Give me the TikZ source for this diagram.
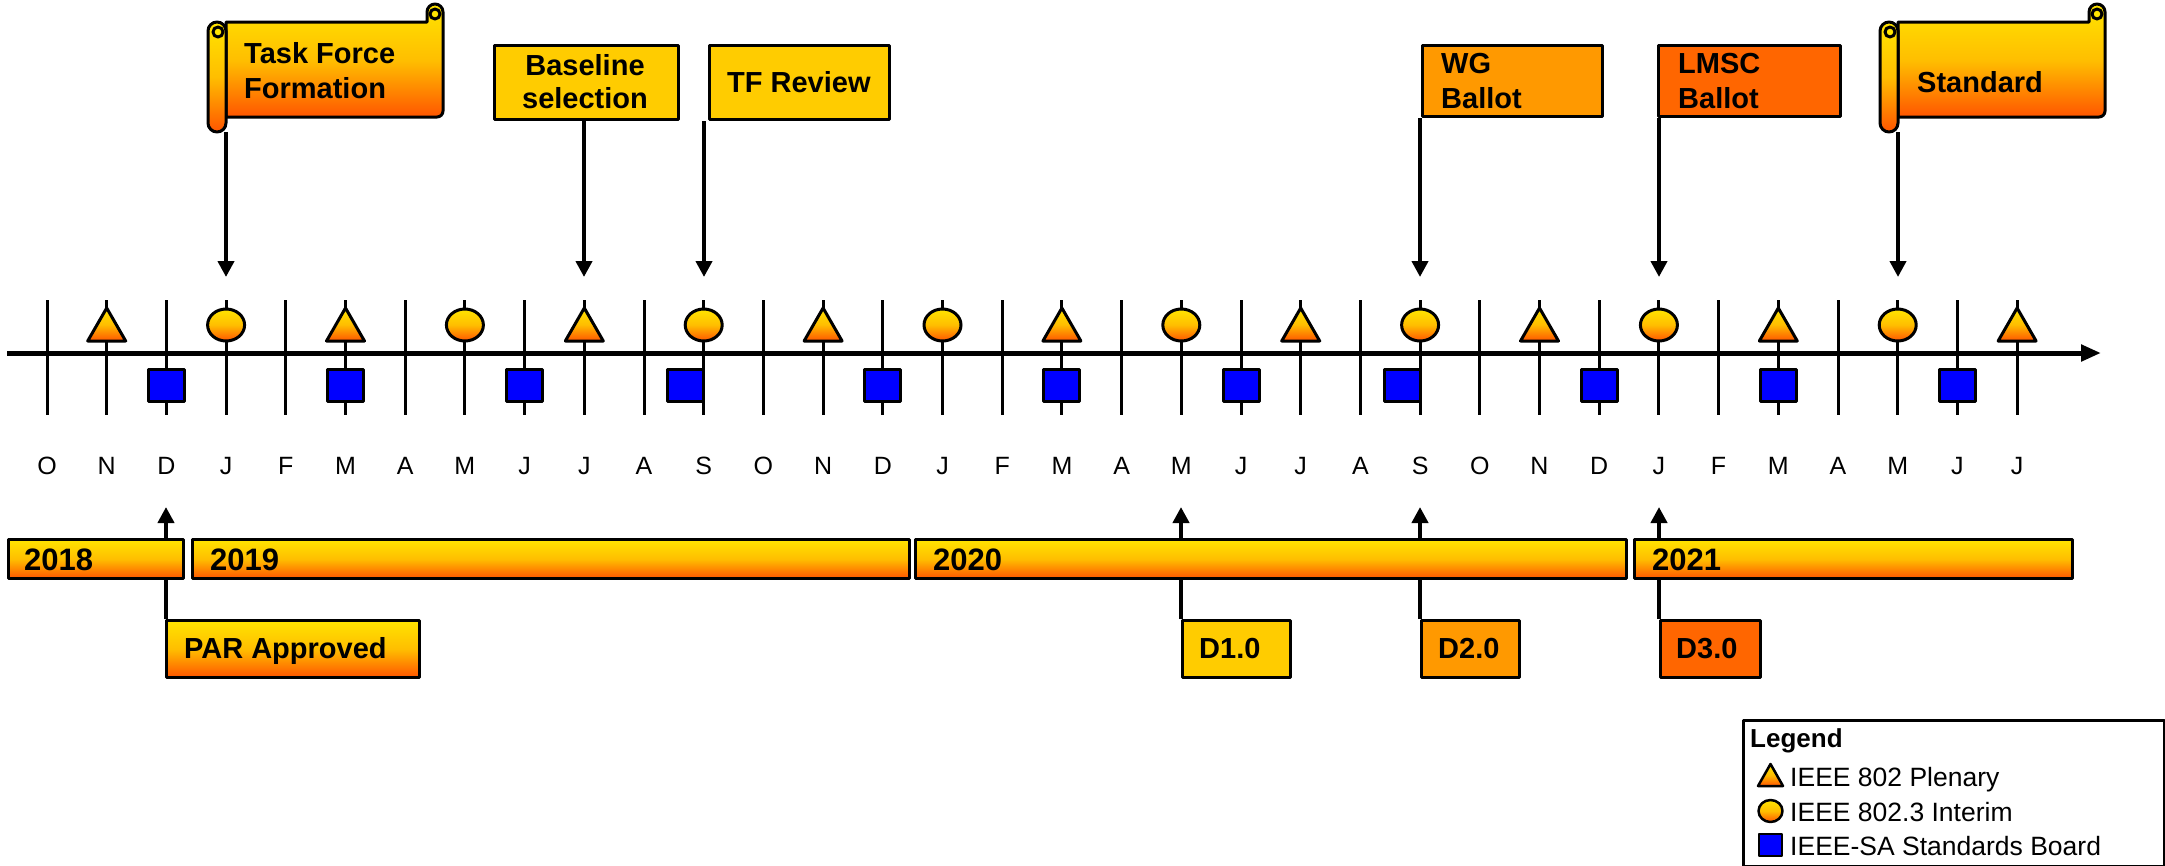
\documentclass[tikz,border=0pt]{standalone}
\usepackage{fontspec}
\setmainfont{Liberation Sans}
\usetikzlibrary{arrows.meta}
\definecolor{gy}{RGB}{255,228,0}
\definecolor{gm}{RGB}{255,190,0}
\definecolor{gr}{RGB}{255,85,0}
\definecolor{gold}{RGB}{255,204,0}
\definecolor{orangeB}{RGB}{255,153,0}
\definecolor{redB}{RGB}{255,102,0}
\definecolor{sqblue}{RGB}{0,0,255}
\newcommand{\myscroll}[2]{%
  \draw[box,grad] ({#1+18},22) -- ({#2-16},22) -- ({#2-16},12) arc[start angle=180,end angle=360,radius=8]
     -- (#2,111) arc[start angle=0,end angle=90,radius=6] -- ({#1+18},117) -- cycle;
  \draw[box,fill=gy] ({#2-8},14) circle (5);
  \draw[box,grad,rounded corners=9pt] (#1,22) rectangle ({#1+18},132);
  \draw[box,fill=gy] ({#1+10},32) circle (5);
}
\begin{document}
\begin{tikzpicture}[x=1pt,y=-1pt,line join=round,
  grad/.style={top color=gy,bottom color=gr,middle color=gm},
  tick/.style={line width=3pt},
  mk/.style={line width=3pt,draw=black},
  lbl/.style={font=\fontsize{29}{34}\selectfont\bfseries,inner sep=0pt,anchor=base west},
  yrlbl/.style={font=\fontsize{31}{36}\selectfont\bfseries,inner sep=0pt,anchor=base west},
  box/.style={draw=black,line width=3pt},
  arr/.style={line width=4.5pt,-{Triangle[length=16pt,width=16pt]}},
  month/.style={font=\fontsize{25}{30}\selectfont,inner sep=0pt,anchor=base},
  legtxt/.style={font=\fontsize{26.5}{30}\selectfont,anchor=base west,inner sep=0pt}]
\useasboundingbox (0,0) rectangle (2165,865);
% ticks
\foreach \i in {0,...,33} {\draw[tick] ({47+59.7*\i},300) -- ({47+59.7*\i},415);}
% axis
\coordinate (axL) at (7,353);
\coordinate (axR) at (2101,353);
\draw[line width=5pt,-{Triangle[length=20pt,width=16pt]}] (axL) -- (axR);
% triangles
\foreach \i in {1,5,9,13,17,21,25,29,33} {\draw[mk,grad] ({47+59.7*\i},308) -- ({47+59.7*\i+19},341) -- ({47+59.7*\i-19},341) -- cycle;}
% circles
\foreach \i in {3,7,11,15,19,23,27,31} {\draw[mk,grad] ({47+59.7*\i},325) ellipse [x radius=18.5, y radius=16];}
% squares
\foreach \i in {2,5,8,14,17,20,26,29,32} {\draw[mk,fill=sqblue] ({47+59.7*\i-18},369) rectangle ({47+59.7*\i+18},401);}
\foreach \i in {11,23} {\draw[mk,fill=sqblue] ({47+59.7*\i-36},369) rectangle ({47+59.7*\i},401);}
% month labels
\foreach \m [count=\k from 0] in {O,N,D,J,F,M,A,M,J,J,A,S,O,N,D,J,F,M,A,M,J,J,A,S,O,N,D,J,F,M,A,M,J,J}
  {\node[month] (mon\k) at ({47+59.7*\k},474) {\m};}
% marker coordinates
\coordinate (tJan19) at (226,277);
\coordinate (tJul19) at (584,277);
\coordinate (tSep19) at (704,277);
\coordinate (tSep20) at (1420,277);
\coordinate (tJan21) at (1659,277);
\coordinate (tMay21) at (1898,277);
\coordinate (bDec18) at (166,507);
\coordinate (bMay20) at (1181,507);
\coordinate (bSep20) at (1420,507);
\coordinate (bJan21) at (1659,507);
% ---- top labels
\myscroll{208}{443}
\coordinate (tffbot) at (217,132);
\node[lbl] (tff1) at (244,63) {Task Force};
\node[lbl] (tff2) at (244,98) {Formation};
\node[box,fill=gold,minimum width=184pt,minimum height=74pt,inner sep=0pt,anchor=north west] (bsel) at (493,44) {};
\node[lbl,anchor=base] (bsel1) at (585,75) {Baseline};
\node[lbl,anchor=base] (bsel2) at (585,108) {selection};
\node[box,fill=gold,minimum width=180pt,minimum height=74pt,anchor=north west,inner sep=0pt] (tfr) at (708,44) {};
\node[lbl] (tfr1) at (727,92) {TF Review};
\node[box,fill=orangeB,minimum width=180pt,minimum height=71pt,anchor=north west,inner sep=0pt] (wgb) at (1421,44) {};
\node[lbl] (wgb1) at (1441,73) {WG};
\node[lbl] (wgb2) at (1441,108) {Ballot};
\node[box,fill=redB,minimum width=182pt,minimum height=71pt,anchor=north west,inner sep=0pt] (lmsc) at (1657,44) {};
\node[lbl] (lmsc1) at (1678,73) {LMSC};
\node[lbl] (lmsc2) at (1678,108) {Ballot};
\myscroll{1880}{2105}
\node[lbl] (std) at (1917,92) {Standard};
% top arrows
\draw[arr] (tJan19 |- tffbot) -- (tJan19);
\draw[arr] (bsel.south -| tJul19) -- (tJul19);
\draw[arr] (tfr.south -| tSep19) -- (tSep19);
\draw[arr] (wgb.south -| tSep20) -- (tSep20);
\draw[arr] (lmsc.south -| tJan21) -- (tJan21);
\draw[arr] (tMay21 |- tffbot) -- (tMay21);
% bottom boxes
\node[box,grad,minimum width=253pt,minimum height=57pt,anchor=north west,inner sep=0pt] (par) at (165,619) {};
\node[lbl] (par1) at (184,658) {PAR Approved};
\node[box,fill=gold,minimum width=108pt,minimum height=57pt,anchor=north west,inner sep=0pt] (d1) at (1181,619) {};
\node[lbl] (d1t) at (1199,658) {D1.0};
\node[box,fill=orangeB,minimum width=98pt,minimum height=57pt,anchor=north west,inner sep=0pt] (d2) at (1420,619) {};
\node[lbl] (d2t) at (1438,658) {D2.0};
\node[box,fill=redB,minimum width=100pt,minimum height=57pt,anchor=north west,inner sep=0pt] (d3) at (1659,619) {};
\node[lbl] (d3t) at (1676,658) {D3.0};
% bottom arrows
\draw[arr] (par.north west -| bDec18) -- (bDec18);
\draw[arr] (d1.north west -| bMay20) -- (bMay20);
\draw[arr] (d2.north west -| bSep20) -- (bSep20);
\draw[arr] (d3.north west -| bJan21) -- (bJan21);
% year bars
\node[box,grad,minimum width=175pt,minimum height=39pt,anchor=north west,inner sep=0pt] (y18) at (7,538) {};
\node[yrlbl] (y18t) at (24,570) {2018};
\node[box,grad,minimum width=717pt,minimum height=39pt,anchor=north west,inner sep=0pt] (y19) at (191,538) {};
\node[yrlbl] (y19t) at (210,570) {2019};
\node[box,grad,minimum width=711pt,minimum height=39pt,anchor=north west,inner sep=0pt] (y20) at (914,538) {};
\node[yrlbl] (y20t) at (933,570) {2020};
\node[box,grad,minimum width=438pt,minimum height=39pt,anchor=north west,inner sep=0pt] (y21) at (1633,538) {};
\node[yrlbl] (y21t) at (1652,570) {2021};
% legend
\node[box,minimum width=421pt,minimum height=146pt,anchor=north west,inner sep=0pt] (leg) at (1742,719) {};
\node[font=\fontsize{26}{30}\selectfont\bfseries,anchor=base west,inner sep=0pt] (legt) at (1750,747) {Legend};
\draw[mk,grad,line width=2.5pt] (1770.5,764) -- (1783,786) -- (1758,786) -- cycle;
\node[legtxt] (leg1) at (1790,786) {IEEE 802 Plenary};
\draw[mk,grad,line width=2.5pt] (1770.5,811) ellipse [x radius=12, y radius=11];
\node[legtxt] (leg2) at (1790,821) {IEEE 802.3 Interim};
\draw[mk,fill=sqblue,line width=2.5pt] (1759,834) rectangle (1782,856);
\node[legtxt] (leg3) at (1790,855) {IEEE-SA Standards Board};
\end{tikzpicture}
\end{document}
